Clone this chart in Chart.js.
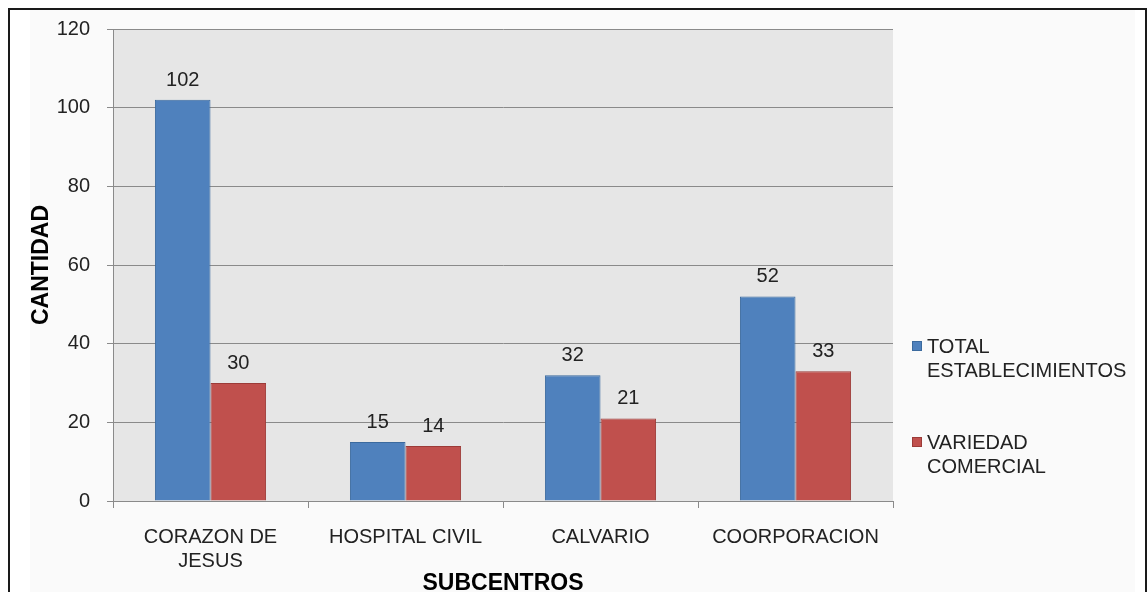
<!DOCTYPE html>
<html lang="es">
<head>
    <meta charset="UTF-8">
    <title>Subcentros</title>
    <style>
        body { margin: 0; background: #fff; }
        #wrap { width: 1147px; height: 592px; }
    </style>
</head>
<body>
    <div id="wrap">
        <canvas id="myChart" width="1147" height="592"></canvas>
    </div>

    <script src="https://cdn.jsdelivr.net/npm/chart.js"></script>

    <script>
        // datos
        const subcentros = [['CORAZON DE', 'JESUS'], 'HOSPITAL CIVIL', 'CALVARIO', 'COORPORACION'];
        const totalEstablecimientos = [102, 15, 32, 52];
        const variedadComercial = [30, 14, 21, 33];
        const serieNombres = [['TOTAL', 'ESTABLECIMIENTOS'], ['VARIEDAD', 'COMERCIAL']];
        const yTicks = [0, 20, 40, 60, 80, 100, 120];

        const fontName = "'Liberation Sans', Arial, sans-serif";
        const textColor = '#222';
        const gridColor = '#8a8a8a';

        // fondo, marco y fondo gris del area de trazado
        const fondoPlugin = {
            id: 'fondo',
            beforeDraw(chart) {
                const c = chart.ctx;
                const a = chart.chartArea;
                c.save();
                c.fillStyle = '#fafafa';
                c.fillRect(30, 10, 1105, 582);
                c.fillStyle = '#e6e6e6';
                c.fillRect(a.left, a.top, a.right - a.left, a.bottom - a.top);
                c.fillStyle = '#1a1a1a';
                c.fillRect(8, 8, 2, 600);
                c.fillRect(8, 8, 1139, 2);
                c.fillRect(1145, 8, 2, 600);
                c.restore();
            }
        };

        // etiquetas de valor encima de cada barra
        const valoresPlugin = {
            id: 'valores',
            afterDatasetsDraw(chart) {
                const c = chart.ctx;
                c.save();
                c.font = '20px ' + fontName;
                c.fillStyle = textColor;
                c.textAlign = 'center';
                c.textBaseline = 'alphabetic';
                chart.data.datasets.forEach((ds, i) => {
                    chart.getDatasetMeta(i).data.forEach((bar, j) => {
                        c.fillText(ds.data[j], bar.x, bar.y - 14);
                    });
                });
                c.restore();
            }
        };

        // leyenda a la derecha con texto en dos lineas
        const leyendaPlugin = {
            id: 'leyenda',
            afterDraw(chart) {
                const c = chart.ctx;
                c.save();
                c.font = '20px ' + fontName;
                c.textBaseline = 'alphabetic';
                c.textAlign = 'left';
                chart.data.datasets.forEach((ds, i) => {
                    const top = 341 + i * 96;
                    c.fillStyle = ds.backgroundColor;
                    c.fillRect(912, top, 10, 10);
                    c.strokeStyle = ds.borderColor;
                    c.lineWidth = 1;
                    c.strokeRect(912.5, top + 0.5, 9, 9);
                    c.fillStyle = textColor;
                    serieNombres[i].forEach((linea, k) => {
                        c.fillText(linea, 927, top + 12 + k * 24);
                    });
                });
                c.restore();
            }
        };

        const ctx = document.getElementById('myChart');

        let chart = new Chart(ctx, {
            type: 'bar',
            data: {
                labels: subcentros,
                datasets: [{
                    label: serieNombres[0].join(' '),
                    data: totalEstablecimientos,
                    backgroundColor: '#4f81bd',
                    borderColor: '#3b6a9e',
                    borderWidth: 1
                }, {
                    label: serieNombres[1].join(' '),
                    data: variedadComercial,
                    backgroundColor: '#c0504d',
                    borderColor: '#9c3b38',
                    borderWidth: 1
                }]
            },
            options: {
                responsive: false,
                animation: false,
                layout: { padding: { left: 10, top: 26, right: 254, bottom: 0 } },
                categoryPercentage: 0.57,
                barPercentage: 1,
                plugins: {
                    legend: { display: false },
                    tooltip: { enabled: false }
                },
                scales: {
                    x: {
                        afterFit(axis) { axis.height = 91; },
                        grid: {
                            drawOnChartArea: false,
                            drawTicks: true,
                            tickLength: 7,
                            color: gridColor
                        },
                        border: { color: gridColor },
                        ticks: {
                            color: textColor,
                            padding: 17,
                            maxRotation: 0,
                            font: { family: fontName, size: 20 }
                        },
                        title: {
                            display: true,
                            text: 'SUBCENTROS',
                            color: '#000',
                            padding: { top: 0, bottom: -5 },
                            font: { family: fontName, size: 23, weight: 'bold' }
                        }
                    },
                    y: {
                        min: 0,
                        max: 120,
                        afterFit(axis) { axis.width = 103; },
                        afterBuildTicks(axis) {
                            axis.ticks = yTicks.map(v => ({ value: v }));
                        },
                        grid: {
                            color: gridColor,
                            tickLength: 6
                        },
                        border: { color: gridColor },
                        ticks: {
                            color: textColor,
                            padding: 17,
                            font: { family: fontName, size: 20 }
                        },
                        title: {
                            display: true,
                            text: 'CANTIDAD',
                            color: '#000',
                            padding: { top: 18, bottom: 0 },
                            font: { family: fontName, size: 23, weight: 'bold' }
                        }
                    }
                }
            },
            plugins: [fondoPlugin, valoresPlugin, leyendaPlugin]
        });
    </script>
</body>
</html>
